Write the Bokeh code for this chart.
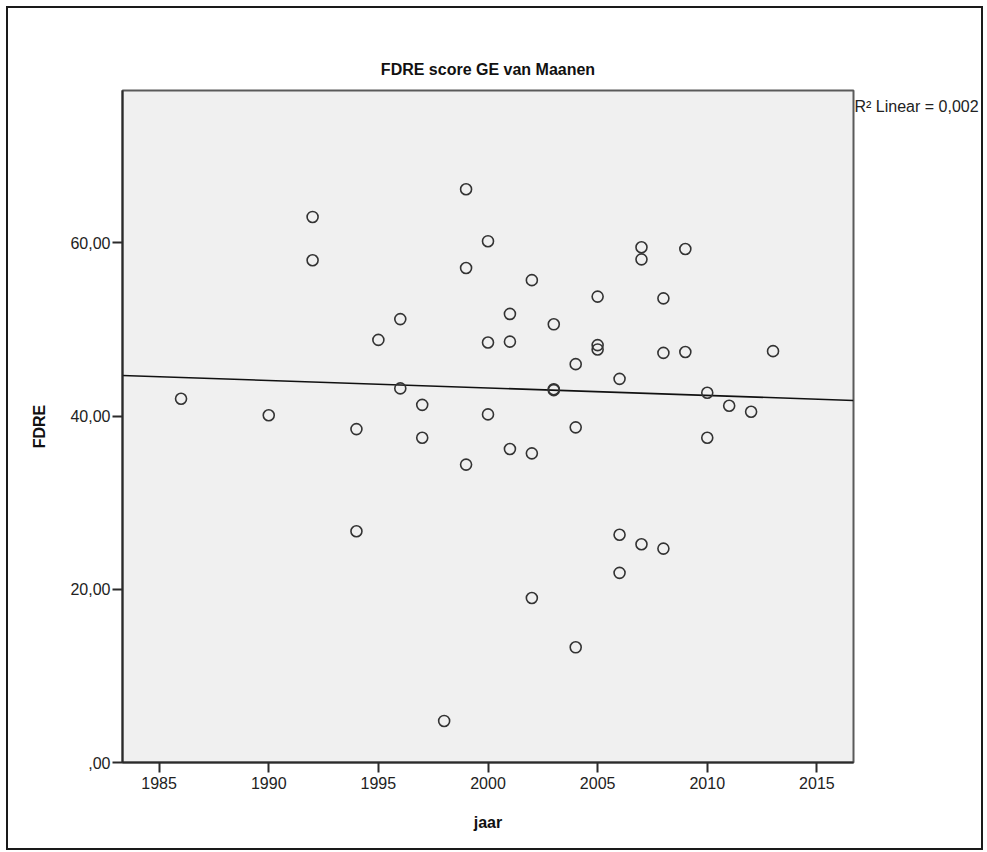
import numpy as np
from bokeh.plotting import figure
from bokeh.models import Range1d, FixedTicker, LinearAxis, ColumnDataSource
from bokeh.embed import file_html
from bokeh.resources import INLINE

# ---- data ----
jaar = [1986, 1990, 1992, 1992, 1994, 1994, 1995, 1996, 1996, 1997, 1997, 1998,
        1999, 1999, 1999, 2000, 2000, 2000, 2001, 2001, 2001, 2002, 2002, 2002,
        2003, 2003, 2003, 2004, 2004, 2004, 2005, 2005, 2005, 2006, 2006, 2006,
        2007, 2007, 2007, 2008, 2008, 2008, 2009, 2009, 2010, 2010, 2011, 2012, 2013]
fdre = [42.0, 40.1, 63.0, 58.0, 38.5, 26.7, 48.8, 51.2, 43.2, 41.3, 37.5, 4.8,
        66.2, 57.1, 34.4, 60.2, 48.5, 40.2, 51.8, 48.6, 36.2, 55.7, 35.7, 19.0,
        50.6, 43.0, 43.1, 46.0, 38.7, 13.3, 53.8, 48.2, 47.7, 44.3, 26.3, 21.9,
        59.5, 58.1, 25.2, 53.6, 47.3, 24.7, 59.3, 47.4, 42.7, 37.5, 41.2, 40.5, 47.5]
x_ticks = [1985, 1990, 1995, 2000, 2005, 2010, 2015]
y_ticks = [0, 20, 40, 60]
y_tick_labels = [",00", "20,00", "40,00", "60,00"]
title_text = "FDRE score GE van Maanen"
x_label = "jaar"
y_label = "FDRE"
r2_text = "R\u00b2 Linear = 0,002"

X0, X1 = 1983.33, 2016.67
Y0, Y1 = 0.0, 77.6
R2_Y = 75.7

FONT = "Liberation Sans"
AX = "#2b2b2b"

p = figure(frame_width=731, frame_height=672,
           min_border_left=114, min_border_right=126,
           min_border_top=82, min_border_bottom=86,
           x_range=Range1d(X0, X1), y_range=Range1d(Y0, Y1),
           output_backend="svg", toolbar_location=None,
           background_fill_color="#F0F0F0", border_fill_color="white",
           outline_line_color="#5a5a5a", outline_line_width=2,
           styles={"border": "2px solid #1a1a1a", "margin": "6px 0 0 6px"})

p.xgrid.visible = False
p.ygrid.visible = False

# title
p.title.text = title_text
p.title.align = "center"
p.title.text_font = FONT
p.title.text_font_size = "16px"
p.title.text_font_style = "bold"
p.title.text_color = "#111111"
p.title.standoff = 26

# axes
for ax in (p.xaxis[0], p.yaxis[0]):
    ax.axis_line_color = AX
    ax.axis_line_width = 2
    ax.major_tick_line_color = AX
    ax.major_tick_line_width = 2
    ax.major_tick_out = 10
    ax.major_tick_in = 0
    ax.minor_tick_line_color = None
    ax.major_label_text_font = FONT
    ax.major_label_text_font_size = "16px"
    ax.major_label_text_color = "#222222"
    ax.axis_label_text_font = FONT
    ax.axis_label_text_font_size = "16px"
    ax.axis_label_text_font_style = "bold"
    ax.axis_label_text_color = "#111111"

p.xaxis.ticker = FixedTicker(ticks=x_ticks)
p.yaxis.ticker = FixedTicker(ticks=y_ticks)
p.yaxis.major_label_overrides = {t: l for t, l in zip(y_ticks, y_tick_labels)}
p.xaxis.axis_label = x_label
p.yaxis.axis_label = y_label
p.xaxis.major_label_standoff = 4
p.yaxis.major_label_standoff = 2
p.xaxis.axis_label_standoff = 22
p.yaxis.axis_label_standoff = 19

# R^2 annotation as a label-only axis on the right of the frame
r2_axis = LinearAxis(ticker=FixedTicker(ticks=[R2_Y]),
                     major_label_overrides={R2_Y: r2_text},
                     axis_line_color=None, major_tick_line_color=None,
                     minor_tick_line_color=None, major_tick_in=0, major_tick_out=0,
                     major_label_standoff=1, major_label_text_font=FONT,
                     major_label_text_font_size="16px",
                     major_label_text_color="#222222")
p.add_layout(r2_axis, "right")

# linear fit line
b1, b0 = np.polyfit(np.array(jaar, float), np.array(fdre, float), 1)
p.line(x=[X0, X1], y=[b0 + b1 * X0, b0 + b1 * X1], line_color="#111111", line_width=1.6)

src = ColumnDataSource(dict(jaar=jaar, fdre=fdre))
p.scatter(x="jaar", y="fdre", source=src, marker="circle", size=11,
          fill_color=None, line_color="#333333", line_width=1.6)

open("out.html", "w").write(file_html(p, INLINE))
